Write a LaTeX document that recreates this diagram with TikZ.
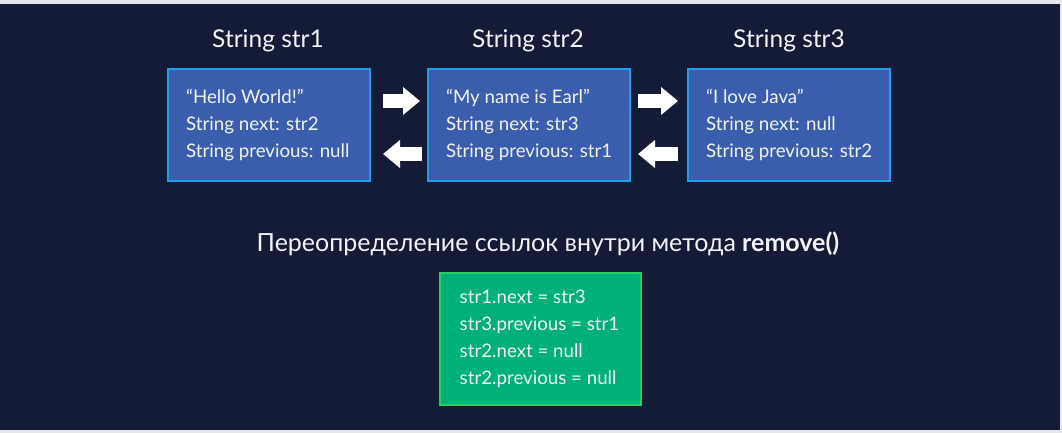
\documentclass[tikz,border=0pt]{standalone}
\usepackage{fontspec}
\setmainfont{Lato}
\usetikzlibrary{arrows.meta}
\definecolor{outerc}{HTML}{E6E7EB}
\definecolor{bg}{HTML}{141B37}
\definecolor{boxfill}{HTML}{3A5DAE}
\definecolor{boxedge}{HTML}{1FA0E6}
\definecolor{grnfill}{HTML}{00B07A}
\definecolor{grnedge}{HTML}{24D160}
\definecolor{txt}{HTML}{F2F4F8}
\begin{document}
\begin{tikzpicture}[x=1pt,y=-1pt,
  box/.style={draw=boxedge, line width=2pt, fill=boxfill, minimum width=202pt, minimum height=112pt, inner sep=0pt},
  gbox/.style={draw=grnedge, line width=2pt, fill=grnfill, minimum width=201pt, minimum height=132pt, inner sep=0pt},
  boxtext/.style={text=txt, font=\fontsize{18.7}{27}\selectfont, align=left, inner sep=0pt, anchor=west},
  title/.style={text=txt, font=\fontsize{24.5}{28}\selectfont, inner sep=0pt},
  blockarrow/.style={draw=white, line width=14pt, -{Triangle[length=17pt,width=27pt]}}]
\useasboundingbox (0,0) rectangle (1062,433);
\fill[outerc] (0,0) rectangle (1062,433);
\fill[bg] (0,4) rectangle (1060,430);

\node[box] (b1) at (269,125) {};
\node[box] (b2) at (529,125) {};
\node[box] (b3) at (789,125) {};

\node[title] (h1) at (268,41) {String str1};
\node[title] (h2) at (528,41) {String str2};
\node[title] (h3) at (789,41) {String str3};

\node[boxtext] (t1) at ([xshift=19pt]b1.west) {“Hello World!”\\String next: str2\\String previous: null};
\node[boxtext] (t2) at ([xshift=19pt]b2.west) {“My name is Earl”\\String next: str3\\String previous: str1};
\node[boxtext] (t3) at ([xshift=19pt]b3.west) {“I love Java”\\String next: null\\String previous: str2};

\draw[blockarrow] ([xshift=12pt,yshift=24pt]b1.east) -- ([xshift=-7pt,yshift=24pt]b2.west);
\draw[blockarrow] ([xshift=-5pt,yshift=-29pt]b2.west) -- ([xshift=12pt,yshift=-29pt]b1.east);
\draw[blockarrow] ([xshift=7pt,yshift=24pt]b2.east) -- ([xshift=-9pt,yshift=24pt]b3.west);
\draw[blockarrow] ([xshift=-9pt,yshift=-29pt]b3.west) -- ([xshift=7pt,yshift=-29pt]b2.east);

\node[title, font=\fontsize{25}{29}\selectfont] (head) at (548,244) {Переопределение ссылок внутри метода \textbf{remove()}};

\node[gbox] (g) at (540,339) {};
\node[boxtext] (gt) at ([xshift=21pt]g.west) {str1.next = str3\\str3.previous = str1\\str2.next = null\\str2.previous = null};
\end{tikzpicture}
\end{document}
